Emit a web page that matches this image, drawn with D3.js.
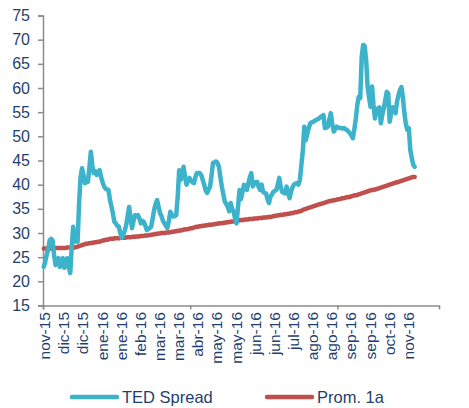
<!DOCTYPE html>
<html>
<head>
<meta charset="utf-8">
<script src="https://cdn.jsdelivr.net/npm/d3@7"></script>
<style>
  html, body { margin: 0; padding: 0; background: #fff; }
  svg { display: block; font-family: "Liberation Sans", Arial, sans-serif; }
</style>
</head>
<body>
<svg id="chart" width="469" height="408"></svg>
<script>
// ---- data ----
const xLabels = ["nov-15","dic-15","dic-15","ene-16","ene-16","feb-16","mar-16","mar-16","abr-16","may-16",
                 "may-16","jun-16","jun-16","jul-16","ago-16","ago-16","sep-16","sep-16","oct-16","nov-16"];
const yTicks = [15,20,25,30,35,40,45,50,55,60,65,70,75];
const seriesNames = ["TED Spread", "Prom. 1a"];
const tedSpread = [
  23.0,24.0,25.5,26.5,28.5,28.8,28.5,25.5,23.4,24.0,
  24.8,23.0,24.0,24.8,22.8,23.8,24.8,23.0,21.7,27.0,
  31.3,28.2,28.5,28.2,36.0,41.5,43.4,42.0,40.3,40.5,
  40.6,43.5,46.8,44.0,42.4,42.8,42.0,42.5,43.0,41.5,
  40.5,39.6,39.2,39.0,38.9,36.8,35.5,34.0,32.3,32.0,
  31.5,31.3,30.0,29.0,29.5,30.5,31.6,33.5,35.4,33.0,
  31.0,32.5,33.7,33.5,33.7,33.0,32.0,32.5,32.3,31.5,
  30.6,30.8,31.0,31.3,33.0,34.8,36.0,36.8,35.5,34.1,
  33.5,32.5,32.0,31.5,31.0,32.5,34.4,33.8,33.4,33.5,
  33.7,37.5,43.0,41.0,42.5,43.7,41.5,40.0,40.8,41.4,
  40.8,40.5,40.3,41.5,42.4,42.4,42.4,42.0,41.0,40.0,
  38.8,38.3,39.0,39.6,42.0,44.5,44.6,44.8,44.5,43.7,
  41.5,39.6,38.0,36.5,36.0,35.4,34.5,36.2,35.0,34.4,
  33.0,32.0,35.5,38.9,37.0,38.5,40.0,39.2,38.9,40.3,
  41.5,42.4,39.6,40.2,40.5,40.6,39.5,38.9,40.0,38.5,
  38.3,38.2,37.0,36.2,37.5,38.0,38.5,38.7,38.9,40.0,
  41.4,39.5,38.5,38.3,38.2,39.6,38.5,37.2,38.5,39.5,
  40.0,40.2,40.3,40.0,41.0,44.0,47.0,52.0,49.2,50.5,
  51.7,52.7,52.9,53.0,53.2,53.4,53.5,53.7,54.0,54.2,
  54.4,51.7,51.8,52.0,53.5,54.8,52.5,51.0,51.5,52.0,
  51.8,51.7,51.7,51.6,51.7,51.5,51.3,51.0,50.6,50.2,
  49.6,51.5,53.7,56.5,58.2,57.9,66.5,68.9,68.7,65.8,
  60.3,58.0,56.1,60.3,56.5,53.7,55.5,55.8,56.0,52.7,
  54.5,55.8,57.5,59.2,58.9,53.0,54.8,56.0,55.5,54.8,
  57.2,58.5,59.6,60.2,58.0,54.8,52.5,51.3,51.7,47.2,
  45.5,44.1,43.7
];
const prom1a = [
  26.8,26.8,26.8,26.8,26.8,26.8,26.8,26.8,26.9,26.9,
  26.9,26.9,26.9,26.9,26.9,26.9,27.0,27.0,27.0,27.0,
  27.0,27.0,27.1,27.2,27.3,27.4,27.5,27.6,27.7,27.8,
  27.8,27.9,27.9,28.0,28.0,28.1,28.1,28.2,28.2,28.3,
  28.4,28.5,28.6,28.6,28.7,28.8,28.8,28.8,28.9,28.9,
  28.9,28.9,29.0,29.0,29.0,29.0,29.1,29.1,29.1,29.1,
  29.2,29.2,29.2,29.3,29.3,29.3,29.4,29.4,29.4,29.5,
  29.5,29.5,29.6,29.6,29.7,29.7,29.8,29.8,29.9,29.9,
  30.0,30.0,30.0,30.1,30.1,30.1,30.2,30.2,30.3,30.3,
  30.4,30.4,30.5,30.5,30.6,30.7,30.7,30.8,30.8,30.9,
  31.0,31.0,31.1,31.2,31.3,31.3,31.4,31.4,31.5,31.5,
  31.6,31.6,31.7,31.7,31.7,31.8,31.8,31.9,31.9,32.0,
  32.0,32.0,32.1,32.1,32.2,32.2,32.3,32.3,32.4,32.4,
  32.5,32.5,32.6,32.6,32.7,32.7,32.7,32.8,32.8,32.8,
  32.9,32.9,32.9,33.0,33.0,33.0,33.1,33.1,33.1,33.2,
  33.2,33.2,33.3,33.3,33.3,33.4,33.5,33.5,33.6,33.6,
  33.7,33.7,33.8,33.8,33.9,33.9,34.0,34.0,34.1,34.1,
  34.2,34.3,34.3,34.4,34.5,34.6,34.8,34.9,35.0,35.1,
  35.2,35.3,35.4,35.5,35.6,35.7,35.8,35.9,36.0,36.1,
  36.2,36.3,36.4,36.5,36.6,36.6,36.7,36.8,36.8,36.9,
  37.0,37.0,37.1,37.2,37.2,37.3,37.4,37.4,37.5,37.6,
  37.7,37.8,37.8,37.9,38.0,38.1,38.2,38.3,38.4,38.5,
  38.6,38.7,38.8,38.9,38.9,39.0,39.1,39.2,39.3,39.4,
  39.5,39.6,39.7,39.8,39.9,40.0,40.1,40.2,40.3,40.4,
  40.5,40.6,40.7,40.8,40.9,41.0,41.1,41.2,41.3,41.4,
  41.5,41.6,41.6
];
const nCategories = 269;      // category slots on the axis
const labelEvery = 13;        // a date label every 13 categories
const tickEvery = 100;        // a tick mark every 100 categories

// ---- drawing ----
const svg = d3.select("#chart");
const colors = ["#3DB3CB", "#C0504D"];
const textColor = "#1F3F6E";
const axisColor = "#8C8C8C";

const x = d3.scaleLinear().domain([-0.5, nCategories - 0.5]).range([43, 439]);
const y = d3.scaleLinear().domain([15, 75]).range([305.5, 15.5]);

// Y axis
const yAxis = d3.axisLeft(y).tickValues(yTicks).tickSize(5).tickPadding(8);
const gy = svg.append("g").attr("transform", "translate(43,0)").call(yAxis);
gy.select(".domain").attr("stroke", axisColor).attr("stroke-width", 1.5);
gy.selectAll(".tick line").attr("stroke", axisColor).attr("stroke-width", 1.5);
gy.selectAll(".tick text").attr("fill", textColor).attr("font-size", 16)
  .attr("font-family", "Liberation Sans, Arial, sans-serif");

// X axis line + ticks
const tickPos = d3.range(-0.5, nCategories, tickEvery);
const xAxis = d3.axisBottom(x).tickValues(tickPos).tickSize(4).tickFormat("");
const gx = svg.append("g").attr("transform", "translate(0,305.5)").call(xAxis);
gx.select(".domain").attr("stroke", axisColor).attr("stroke-width", 1.5);
gx.selectAll(".tick line").attr("stroke", axisColor).attr("stroke-width", 1.5);

// X labels
svg.append("g").selectAll("text").data(xLabels).join("text")
  .attr("transform", (d, i) => `translate(${x(i * labelEvery) + 1},312) rotate(-90)`)
  .attr("text-anchor", "end")
  .attr("dy", "0.35em")
  .attr("font-size", 15.5)
  .attr("fill", textColor)
  .text(d => d);

// Lines
const line = d3.line().x((d, i) => x(i)).y(d => y(d)).curve(d3.curveLinear);
svg.append("path").datum(prom1a).attr("d", line)
  .attr("fill", "none").attr("stroke", colors[1]).attr("stroke-width", 4.5)
  .attr("stroke-linejoin", "round").attr("stroke-linecap", "round");
svg.append("path").datum(tedSpread).attr("d", line)
  .attr("fill", "none").attr("stroke", colors[0]).attr("stroke-width", 4.5)
  .attr("stroke-linejoin", "round").attr("stroke-linecap", "round");

// Legend
const legendItems = [{x: 72, name: seriesNames[0], c: colors[0]}, {x: 267, name: seriesNames[1], c: colors[1]}];
const lg = svg.append("g").selectAll("g").data(legendItems).join("g")
  .attr("transform", d => `translate(${d.x},397)`);
lg.append("line").attr("x1", 0).attr("x2", 45).attr("y1", 0).attr("y2", 0)
  .attr("stroke", d => d.c).attr("stroke-width", 4.5).attr("stroke-linecap", "round");
lg.append("text").attr("x", 50).attr("dy", "0.35em").attr("font-size", 16.5)
  .attr("fill", textColor).text(d => d.name);
</script>
</body>
</html>
